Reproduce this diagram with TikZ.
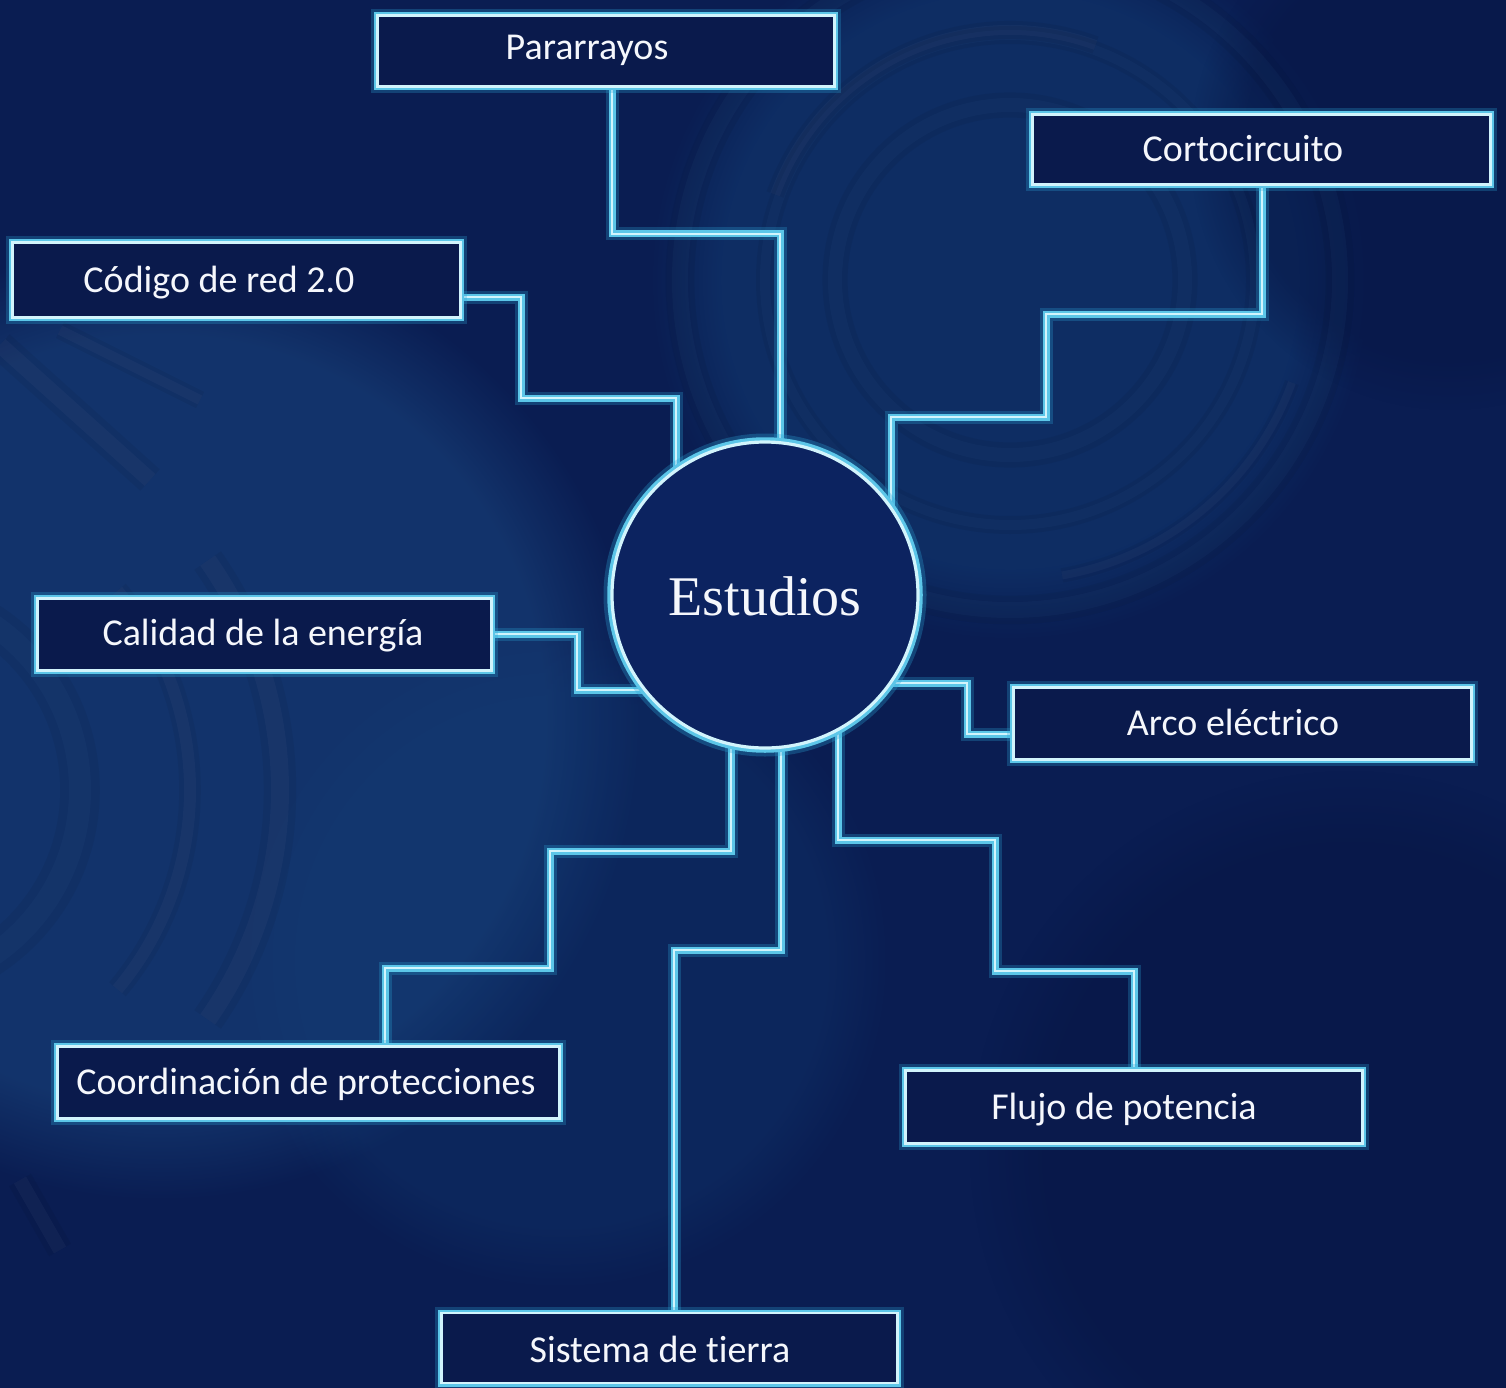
\documentclass[tikz,border=0pt]{standalone}
\usepackage{fontspec}
\setmainfont{Carlito}[Ligatures=NoCommon]
\newfontfamily\estfont{Liberation Serif}
\usetikzlibrary{calc,fadings}
\definecolor{bgbase}{HTML}{0A1D52}
\definecolor{bglight}{HTML}{1A4680}
\definecolor{bgmid}{HTML}{123D75}
\definecolor{bgdark}{HTML}{071645}
\definecolor{ringc}{HTML}{3F6FA5}
\definecolor{arcgray}{HTML}{7A7FA8}
\definecolor{glowc}{HTML}{2BA3D6}
\definecolor{midc}{HTML}{5CC6E8}
\definecolor{corec}{HTML}{D2F4FC}
\definecolor{boxfill}{HTML}{0A1A4C}
\definecolor{circfill}{HTML}{0C2360}
\definecolor{txt}{HTML}{F5F7FC}
\pgfdeclarelayer{bglayer}
\pgfdeclarelayer{wirelayer}
\pgfsetlayers{bglayer,wirelayer,main}
\begin{document}
\begin{tikzpicture}[x=1pt,y=-1pt,
  glowline/.style={draw=corec, line width=2.6pt, line join=miter,
    preaction={draw=glowc, line width=13pt, opacity=0.28},
    preaction={draw=midc, line width=7pt}},
  wire/.style={glowline},
  labelbox/.style={glowline, fill=boxfill, rectangle, inner sep=0pt},
  lbl/.style={text=txt, font=\fontsize{38}{40}\selectfont, anchor=base, inner sep=0pt},
  hub/.style={fill=circfill, circle, minimum size=306pt, inner sep=0pt,
    draw=corec, line width=3.2pt,
    preaction={draw=glowc, line width=17pt, opacity=0.30},
    preaction={draw=midc, line width=9.5pt}},
  soft/.style={line width=#1, opacity=0.07, preaction={draw, line width=#1*1.8, opacity=0.05}}
]
\useasboundingbox (0,0) rectangle (1506,1388);

% ---------- background ----------
\begin{pgfonlayer}{bglayer}
\fill[bgbase] (0,0) rectangle (1506,1388);
\fill[bglight, opacity=0.55, path fading=circle with fuzzy edge 20 percent] (160,720) circle (480);
\fill[bgmid, opacity=0.50, path fading=circle with fuzzy edge 20 percent] (1010,280) circle (360);
\fill[bgmid, opacity=0.30, path fading=circle with fuzzy edge 20 percent] (560,960) circle (330);
\fill[bgdark, opacity=0.6, path fading=circle with fuzzy edge 20 percent] (1350,1150) circle (380);
\fill[bgdark, opacity=0.5, path fading=circle with fuzzy edge 20 percent] (1450,150) circle (260);
% faint rings top right
\draw[ringc, soft=14pt] (1010,280) circle (175);
\draw[ringc, soft=10pt] (1010,280) circle (245);
\draw[arcgray, soft=10pt] (1010,280) ++(200:250) arc (200:290:250);
\draw[arcgray, soft=8pt] (1010,280) ++(20:300) arc (20:80:300);
\draw[ringc, soft=16pt] (1010,280) circle (330);
% faint arcs left
\draw[arcgray, soft=18pt] (-120,790) ++(-35:400) arc (-35:35:400);
\draw[arcgray, soft=12pt] (-120,790) ++(-40:310) arc (-40:40:310);
\draw[ringc, soft=22pt] (-120,790) circle (200);
\draw[arcgray, soft=16pt] (0,345) -- (150,480);
\draw[arcgray, soft=10pt] (60,330) -- (200,400);
\draw[arcgray, soft=14pt] (20,1180) -- (60,1250);
\end{pgfonlayer}

% ---------- nodes ----------
\node[hub] (c) at (765,595) {};
\node[text=txt, font=\estfont\fontsize{56}{60}\selectfont, anchor=base, inner sep=0pt] (ct) at (765,615) {Estudios};

\node[labelbox, minimum width=457pt, minimum height=71pt] (par) at (606,51) {};
\node[lbl] (part) at (587,60) {Pararrayos};

\node[labelbox, minimum width=458pt, minimum height=70pt] (cor) at (1261.5,149.5) {};
\node[lbl] (cort) at (1243,162) {Cortocircuito};

\node[labelbox, minimum width=448pt, minimum height=75pt] (cod) at (236.5,280) {};
\node[lbl] (codt) at (219,292) {Código de red 2.0};

\node[labelbox, minimum width=454pt, minimum height=72pt] (cal) at (264.5,634.5) {};
\node[lbl] (calt) at (263,645) {Calidad de la energía};

\node[labelbox, minimum width=458pt, minimum height=72pt] (arc) at (1242.5,723.5) {};
\node[lbl] (arct) at (1233,735) {Arco eléctrico};

\node[labelbox, minimum width=502pt, minimum height=72pt] (coo) at (308.5,1082.5) {};
\node[lbl] (coot) at (306,1094) {Coordinación de protecciones};

\node[labelbox, minimum width=457pt, minimum height=73pt] (flu) at (1134,1107) {};
\node[lbl] (flut) at (1124,1119) {Flujo de potencia};

\node[labelbox, minimum width=456pt, minimum height=70pt] (sis) at (669.5,1348) {};
\node[lbl] (sist) at (660,1362) {Sistema de tierra};

% ---------- connectors ----------
\begin{pgfonlayer}{wirelayer}
\draw[wire] (par.center -| 612,0) -- (612,234) -- (780,234) -- (780,0 |- c.center);
\draw[wire] (cor.center -| 1262,0) -- (1262,314) -- (1046,314) -- (1046,417) -- (891,417) -- (891,0 |- c.center);
\draw[wire] (cod.center |- 0,297) -- (521,297) -- (521,398) -- (676,398) -- (676,0 |- c.center);
\draw[wire] (cal.center |- 0,634) -- (577,634) -- (577,690) -- (c.center |- 0,690);
\draw[wire] (c.center |- 0,683) -- (967,683) -- (967,734) -- (arc.center |- 0,734);
\draw[wire] (coo.center -| 385,0) -- (385,968) -- (550,968) -- (550,851) -- (731,851) -- (731,0 |- c.center);
\draw[wire] (sis.center -| 674,0) -- (674,950) -- (781,950) -- (781,0 |- c.center);
\draw[wire] (flu.center -| 1134,0) -- (1134,971) -- (995,971) -- (995,840) -- (838,840) -- (838,0 |- c.center);
\end{pgfonlayer}
\end{tikzpicture}
\end{document}
